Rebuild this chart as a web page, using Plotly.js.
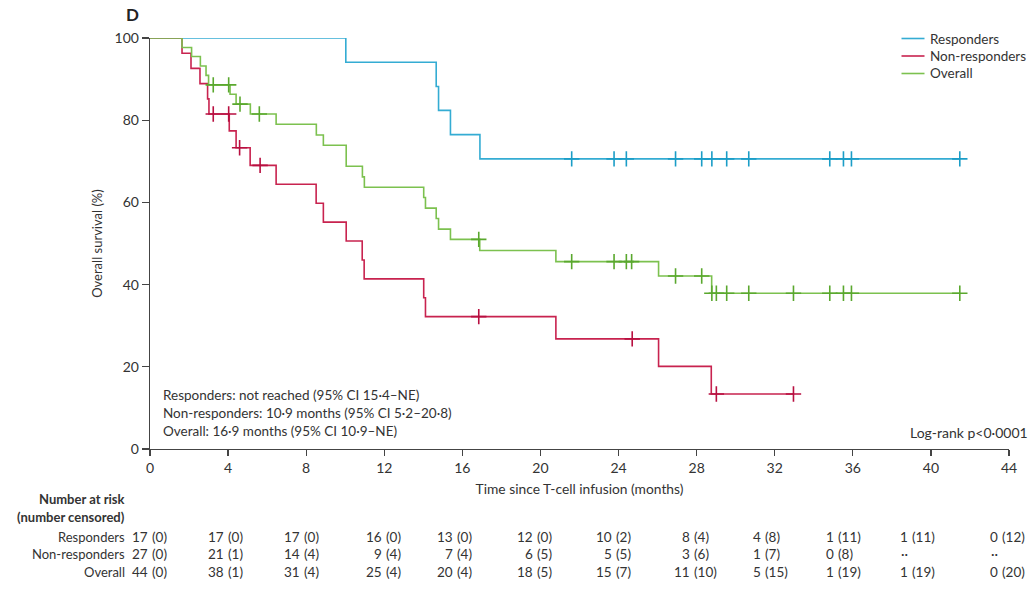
<!DOCTYPE html>
<html><head><meta charset="utf-8">
<script src="https://cdn.plot.ly/plotly-3.0.1.min.js"></script>
<style>html,body{margin:0;padding:0;background:#fff}#chart{width:1036px;height:593px}</style>
</head><body><div id="chart"></div>
<script>
// ---------- data ----------
const respTime = [0, 10.03, 14.66, 14.78, 15.39, 16.9, 41.48];
const respSurv = [100, 94.1, 88.2, 82.4, 76.5, 70.6, 70.6];
const respCensTime = [21.6, 23.77, 24.4, 26.92, 28.26, 28.78, 29.54, 30.67, 34.82, 35.52, 35.93, 41.48];
const respCensSurv = [70.6, 70.6, 70.6, 70.6, 70.6, 70.6, 70.6, 70.6, 70.6, 70.6, 70.6, 70.6];

const nonTime = [0, 1.64, 2.10, 2.56, 2.95, 3.02, 4.06, 4.41, 5.13, 6.46, 8.51, 8.88, 10.05, 10.87, 10.97, 14.02, 14.11, 20.79, 26.05, 28.75, 32.96];
const nonSurv = [100, 96.3, 92.6, 88.9, 85.2, 81.5, 77.4, 73.3, 69.0, 64.4, 59.8, 55.2, 50.6, 46.0, 41.4, 36.8, 32.2, 26.8, 20.1, 13.4, 13.4];
const nonCensTime = [3.24, 4.03, 4.59, 5.64, 16.84, 24.70, 29.01, 32.96];
const nonCensSurv = [81.5, 81.5, 73.3, 69.0, 32.2, 26.8, 13.4, 13.4];

const allTime = [0, 1.64, 2.13, 2.58, 2.87, 3.00, 4.10, 4.41, 5.14, 6.46, 8.52, 8.88, 10.05, 10.88, 10.98, 14.02, 14.11, 14.66, 14.78, 15.39, 16.89, 20.79, 26.05, 28.77, 41.48];
const allSurv = [100, 97.7, 95.5, 93.2, 90.9, 88.6, 86.3, 83.9, 81.5, 79.0, 76.4, 73.9, 68.8, 66.2, 63.7, 61.2, 58.6, 56.1, 53.5, 51.0, 48.3, 45.6, 42.1, 37.9, 37.9];
const allCensTime = [3.24, 4.03, 4.61, 5.60, 16.84, 21.6, 23.77, 24.4, 24.67, 26.92, 28.26, 28.78, 29.01, 29.54, 30.67, 32.96, 34.82, 35.52, 35.93, 41.48];
const allCensSurv = [88.6, 88.6, 83.9, 81.5, 51.0, 45.6, 45.6, 45.6, 45.6, 42.1, 42.1, 37.9, 37.9, 37.9, 37.9, 37.9, 37.9, 37.9, 37.9, 37.9];

const seriesNames = ["Responders", "Non-responders", "Overall"];
const xTickVals = [0, 4, 8, 12, 16, 20, 24, 28, 32, 36, 40, 44];
const yTickVals = [0, 20, 40, 60, 80, 100];

const riskTimes = [0, 4, 8, 12, 16, 20, 24, 28, 32, 36, 40, 44];
const respAtRisk = [17, 17, 17, 16, 13, 12, 10, 8, 4, 1, 1, 0];
const respCensored = [0, 0, 0, 0, 0, 0, 2, 4, 8, 11, 11, 12];
const nonAtRisk = [27, 21, 14, 9, 7, 6, 5, 3, 1, 0, null, null];
const nonCensored = [0, 1, 4, 4, 4, 5, 5, 6, 7, 8, null, null];
const allAtRisk = [44, 38, 31, 25, 20, 18, 15, 11, 5, 1, 1, 0];
const allCensored = [0, 1, 4, 4, 4, 5, 7, 10, 15, 19, 19, 20];

const medianLines = [
  "Responders: not reached (95% CI 15·4–NE)",
  "Non-responders: 10·9 months (95% CI 5·2–20·8)",
  "Overall: 16·9 months (95% CI 10·9–NE)"
];
const logRankText = "Log-rank p<0·0001";

// ---------- styling / layout ----------
const W = 1036, H = 593;
const M = {l: 150, r: 27, t: 38, b: 144};
const plotW = W - M.l - M.r, plotH = H - M.t - M.b;
const px2paper = px => (px - M.l) / plotW;
const py2paper = py => (H - M.b - py) / plotH;

const FONT = "Lato, 'Noto Sans', sans-serif";
const TXT = "#333333";
const lineCols = ["#34acd3", "#c8234f", "#7cc14f"];
const markCols = ["#1b9dc7", "#b80f40", "#5aa82e"];

function stepTrace(x, y, i) {
  return {x, y, type: "scatter", mode: "lines", name: seriesNames[i],
    line: {shape: "hv", color: lineCols[i], width: 1.6}, cliponaxis: false,
    showlegend: false, hoverinfo: "skip"};
}
function censTrace(x, y, i) {
  return {x, y, type: "scatter", mode: "markers", name: seriesNames[i] + " censored",
    marker: {symbol: "cross-thin-open", size: 11, color: markCols[i], line: {color: markCols[i], width: 1.6}},
    cliponaxis: false, showlegend: false, hoverinfo: "skip"};
}

const data = [
  stepTrace(respTime, respSurv, 0),
  stepTrace(nonTime, nonSurv, 1),
  stepTrace(allTime, allSurv, 2),
  censTrace(respCensTime, respCensSurv, 0),
  censTrace(nonCensTime, nonCensSurv, 1),
  censTrace(allCensTime, allCensSurv, 2)
];

const annotations = [];
const shapes = [];
const txt = (text, px, py, anchor, opts) => Object.assign({
  text, xref: "paper", yref: "paper", x: px2paper(px), y: py2paper(py),
  xanchor: anchor, yanchor: "middle", showarrow: false,
  font: {family: FONT, size: 13, color: TXT}
}, opts || {});

// panel letter
annotations.push(txt("<b>D</b>", 132, 15, "center", {font: {family: FONT, size: 17, color: "#222"}}));

// legend
const legY = [38.5, 56, 73.5];
seriesNames.forEach((n, i) => {
  shapes.push({type: "line", xref: "paper", yref: "paper",
    x0: px2paper(901.5), x1: px2paper(924.5), y0: py2paper(legY[i]), y1: py2paper(legY[i]),
    line: {color: lineCols[i], width: 1.6}});
  annotations.push(txt(n, 928, legY[i], "left", {font: {family: FONT, size: 13.5, color: TXT}}));
});

// medians text
const medY = [395, 413, 431];
medianLines.forEach((t, i) => annotations.push(txt(t, 161, medY[i], "left", {font: {family: FONT, size: 13.5, color: TXT}})));
annotations.push(txt(logRankText, 1030, 432, "right", {font: {family: FONT, size: 14, color: TXT}}));

// risk table
annotations.push(txt("<b>Number at risk</b>", 127, 499, "right"));
annotations.push(txt("<b>(number censored)</b>", 127, 517, "right"));
const rowY = [537, 554, 572];
const rowNames = seriesNames;
const colOff = [-1, -3, -5, -1, -8, -6, -6, -6, -13, -18, -22, -10];
const rows = [[respAtRisk, respCensored], [nonAtRisk, nonCensored], [allAtRisk, allCensored]];
rows.forEach((r, ri) => {
  annotations.push(txt(rowNames[ri], 127, rowY[ri], "right"));
  riskTimes.forEach((t, ci) => {
    const base = {xref: "x", yref: "paper", x: t, y: py2paper(rowY[ri]), yanchor: "middle",
      showarrow: false, font: {family: FONT, size: 13.5, color: TXT}};
    if (r[0][ci] === null) {
      annotations.push(Object.assign({}, base, {text: "··", xanchor: "right", xshift: colOff[ci] + 1}));
    } else {
      annotations.push(Object.assign({}, base, {text: String(r[0][ci]), xanchor: "right", xshift: colOff[ci] + 1}));
      annotations.push(Object.assign({}, base, {text: "(" + r[1][ci] + ")", xanchor: "left", xshift: colOff[ci] + 1}));
    }
  });
});

const axisCommon = {showgrid: false, zeroline: false, showline: true, linecolor: "#444", linewidth: 1.3,
  ticks: "outside", tickcolor: "#444", tickwidth: 1.3,
  tickfont: {family: FONT, size: 14, color: TXT}};

const layout = {
  width: W, height: H, margin: M,
  paper_bgcolor: "#fff", plot_bgcolor: "#fff",
  showlegend: false,
  xaxis: Object.assign({}, axisCommon, {range: [0, 44], tickvals: xTickVals, ticklen: 6,
    title: {text: "Time since T-cell infusion (months)", font: {family: FONT, size: 13.8, color: TXT}, standoff: 9}}),
  yaxis: Object.assign({}, axisCommon, {range: [0, 100], tickvals: yTickVals, ticklen: 7,
    title: {text: "Overall survival (%)", font: {family: FONT, size: 13, color: TXT}, standoff: 9}}),
  annotations, shapes
};

Plotly.newPlot("chart", data, layout, {staticPlot: true, displayModeBar: false});
</script></body></html>
